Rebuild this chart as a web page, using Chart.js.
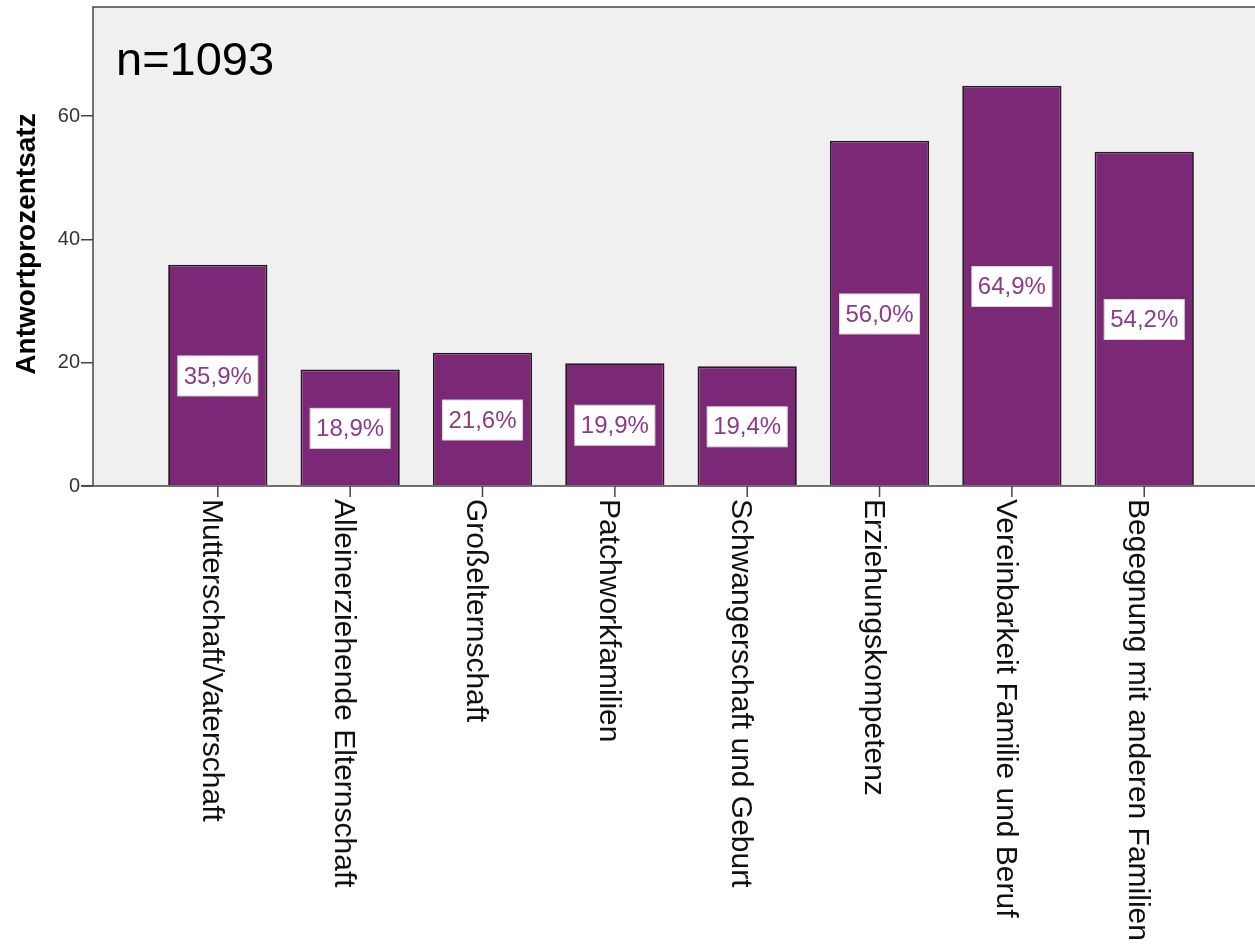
<!DOCTYPE html>
<html>
<head>
<meta charset="utf-8">
<script src="https://cdn.jsdelivr.net/npm/chart.js@4"></script>
<style>
  html, body { margin: 0; padding: 0; background: #fff; }
  #wrap { width: 1255px; height: 945px; }
</style>
</head>
<body>
<div id="wrap"><canvas id="chart" width="1255" height="945"></canvas></div>
<script>
const categories = [
  'Mutterschaft/Vaterschaft',
  'Alleinerziehende Elternschaft',
  'Großelternschaft',
  'Patchworkfamilien',
  'Schwangerschaft und Geburt',
  'Erziehungskompetenz',
  'Vereinbarkeit Familie und Beruf',
  'Begegnung mit anderen Familien'
];
const percents = [35.9, 18.9, 21.6, 19.9, 19.4, 56.0, 64.9, 54.2];
const yTicks = [0, 20, 40, 60];
const sampleNote = 'n=1093';
const yTitle = 'Antwortprozentsatz';

const FONT = '"Liberation Sans", Arial, sans-serif';

const decor = {
  id: 'decor',
  beforeDraw(chart) {
    const { ctx, chartArea: a } = chart;
    ctx.save();
    ctx.fillStyle = '#f0f0f0';
    ctx.fillRect(a.left, a.top, a.right - a.left, a.bottom - a.top);
    ctx.restore();
  },
  afterDraw(chart) {
    const { ctx, chartArea: a } = chart;
    const xs = chart.scales.x;
    ctx.save();
    // frame
    ctx.strokeStyle = '#444';
    ctx.lineWidth = 1.5;
    ctx.beginPath();
    ctx.moveTo(a.left, a.bottom);
    ctx.lineTo(a.left, a.top);
    ctx.lineTo(a.right, a.top);
    ctx.moveTo(a.left - 12, a.bottom);
    ctx.lineTo(a.right, a.bottom);
    ctx.stroke();

    // x tick marks and rotated labels (top-to-bottom)
    ctx.fillStyle = '#111';
    ctx.font = '30px ' + FONT;
    ctx.textAlign = 'left';
    ctx.textBaseline = 'alphabetic';
    categories.forEach((c, i) => {
      const x = xs.getPixelForValue(i);
      ctx.beginPath();
      ctx.moveTo(x, a.bottom);
      ctx.lineTo(x, a.bottom + 11);
      ctx.stroke();
      ctx.save();
      ctx.translate(x, a.bottom + 13);
      ctx.rotate(Math.PI / 2);
      ctx.fillText(c, 0, 15);
      ctx.restore();
    });

    // value boxes
    const meta = chart.getDatasetMeta(0);
    ctx.font = '24px ' + FONT;
    ctx.textAlign = 'center';
    ctx.textBaseline = 'middle';
    meta.data.forEach((bar, i) => {
      const cy = (bar.y + bar.base) / 2 + 1;
      const txt = percents[i].toFixed(1).replace('.', ',') + '%';
      const w = ctx.measureText(txt).width + 12;
      const h = 40;
      ctx.fillStyle = '#ffffff';
      ctx.fillRect(bar.x - w / 2, cy - h / 2, w, h);
      ctx.strokeStyle = '#d8d8d8';
      ctx.lineWidth = 1;
      ctx.strokeRect(bar.x - w / 2, cy - h / 2, w, h);
      ctx.fillStyle = '#8c3b8a';
      ctx.fillText(txt, bar.x, cy + 1);
    });

    // n note
    ctx.fillStyle = '#000';
    ctx.font = '47px ' + FONT;
    ctx.textAlign = 'left';
    ctx.textBaseline = 'alphabetic';
    ctx.fillText(sampleNote, 116, 75);

    // y title
    ctx.save();
    ctx.translate(27, 244);
    ctx.rotate(-Math.PI / 2);
    ctx.font = 'bold 28px ' + FONT;
    ctx.textAlign = 'center';
    ctx.textBaseline = 'middle';
    ctx.fillText(yTitle, 0, 0);
    ctx.restore();
    ctx.restore();
  }
};

new Chart(document.getElementById('chart').getContext('2d'), {
  type: 'bar',
  data: {
    datasets: [{
      data: percents.map((v, i) => ({ x: i, y: v })),
      backgroundColor: '#7b2877',
      borderColor: '#2a1828',
      borderWidth: 1.8,
      barPercentage: 0.75,
      categoryPercentage: 1.0
    }]
  },
  options: {
    responsive: false,
    animation: false,
    layout: { padding: { top: 7, left: 0, right: 0, bottom: 0 } },
    plugins: { legend: { display: false }, tooltip: { enabled: false } },
    scales: {
      x: {
        type: 'linear',
        min: -0.943,
        max: 7.837,
        offset: false,
        afterBuildTicks(s) { s.ticks = categories.map((_, i) => ({ value: i })); },
        grid: { display: false },
        border: { display: false },
        ticks: { display: false },
        afterFit(s) { s.height = 459; }
      },
      y: {
        min: 0,
        max: 77.68,
        afterBuildTicks(s) { s.ticks = yTicks.map(v => ({ value: v })); },
        grid: { display: true, drawOnChartArea: false, tickLength: 12, color: '#444', lineWidth: 1.5 },
        border: { display: false },
        ticks: { color: '#333', font: { family: FONT, size: 20 }, padding: 1 },
        afterFit(s) { s.width = 93; s.paddingTop = 0; s.paddingBottom = 0; }
      }
    }
  },
  plugins: [decor]
});
</script>
</body>
</html>
